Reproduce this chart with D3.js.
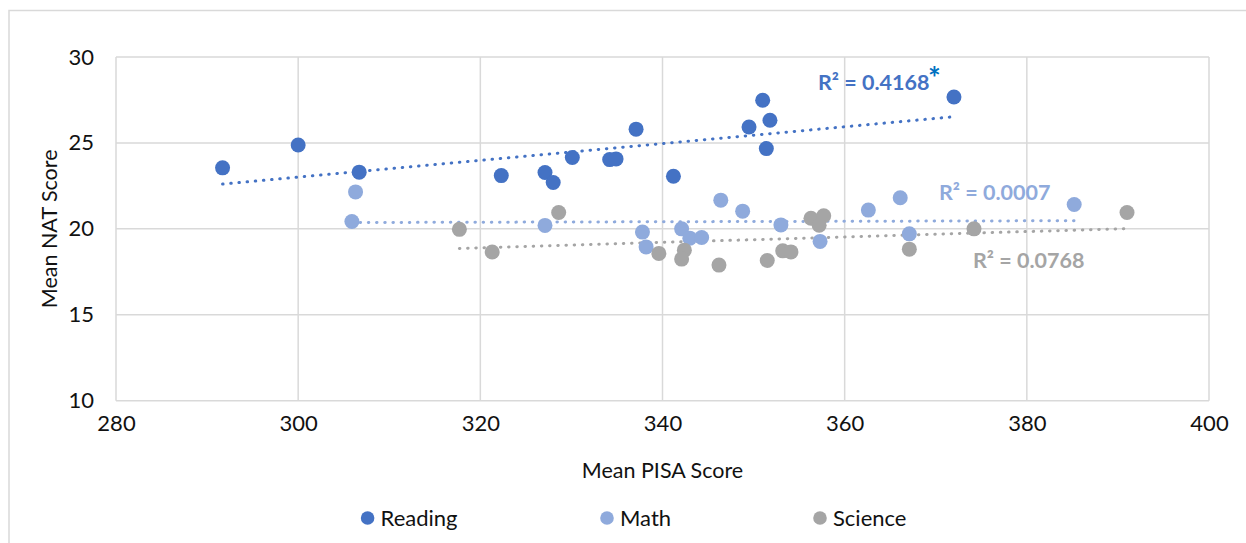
<!DOCTYPE html>
<html>
<head>
<meta charset="utf-8">
<script src="https://cdn.jsdelivr.net/npm/d3@7"></script>
<style>
    body { margin: 0; background: #fff; }
    text { font-family: Lato, "Open Sans", sans-serif; fill: #111; }
</style>
</head>
<body>
<div id="chart"></div>
<script>
// series values (Mean PISA score, Mean NAT score)
const readingX = [291.7, 300.0, 306.7, 322.3, 327.1, 328.0, 330.1, 334.2, 334.9, 337.1, 341.2, 349.5, 351.0, 351.8, 351.4, 372.0];
const readingY = [23.55, 24.88, 23.30, 23.10, 23.28, 22.70, 24.15, 24.03, 24.07, 25.80, 23.06, 25.93, 27.48, 26.32, 24.67, 27.67];

const mathX = [306.3, 305.9, 327.1, 337.8, 338.2, 342.1, 343.0, 344.3, 346.4, 348.8, 353.0, 357.3, 362.6, 366.1, 367.1, 385.2];
const mathY = [22.15, 20.43, 20.20, 19.81, 18.95, 20.00, 19.46, 19.50, 21.67, 21.03, 20.23, 19.27, 21.09, 21.81, 19.71, 21.42];

const scienceX = [317.7, 321.3, 328.6, 339.6, 342.4, 342.1, 346.2, 351.5, 353.2, 354.1, 356.3, 357.7, 357.2, 367.1, 374.2, 391.0];
const scienceY = [19.97, 18.65, 20.95, 18.57, 18.76, 18.24, 17.89, 18.16, 18.72, 18.66, 20.62, 20.76, 20.21, 18.82, 20.00, 20.95];

const seriesNames = ["Reading", "Math", "Science"];
const r2Labels = ["R² = 0.4168", "R² = 0.0007", "R² = 0.0768"];
const xTicks = [280, 300, 320, 340, 360, 380, 400];
const yTicks = [10, 15, 20, 25, 30];

const colors = ["#4472C4", "#8FAADC", "#A5A5A5"];

const width = 1246, height = 543;
const plot = { left: 116, right: 1209, top: 57, bottom: 400.7 };

const svg = d3.select("#chart")
    .append("svg")
    .attr("width", width)
    .attr("height", height);

// outer chart frame
svg.append("rect")
    .attr("x", 9).attr("y", 10.5)
    .attr("width", 1400).attr("height", 700)
    .attr("fill", "none")
    .attr("stroke", "#D9D9D9")
    .attr("stroke-width", 1.5);

const x = d3.scaleLinear().domain([280, 400]).range([plot.left, plot.right]);
const y = d3.scaleLinear().domain([10, 30]).range([plot.bottom, plot.top]);

// gridlines
svg.append("g")
    .selectAll("line")
    .data(xTicks)
    .enter().append("line")
    .attr("x1", d => x(d)).attr("x2", d => x(d))
    .attr("y1", plot.top).attr("y2", plot.bottom)
    .attr("stroke", "#D9D9D9").attr("stroke-width", 1.5);

svg.append("g")
    .selectAll("line")
    .data(yTicks)
    .enter().append("line")
    .attr("x1", plot.left).attr("x2", plot.right)
    .attr("y1", d => y(d)).attr("y2", d => y(d))
    .attr("stroke", "#D9D9D9").attr("stroke-width", 1.5);

// axes labels via d3 axes, lines hidden
const xAxis = svg.append("g")
    .attr("transform", `translate(0,${plot.bottom + 15})`)
    .call(d3.axisBottom(x).tickValues(xTicks).tickSize(0).tickPadding(0));
xAxis.select(".domain").remove();
xAxis.selectAll("text")
    .attr("dy", "0.71em")
    .style("font-size", "22px")
    .style("font-family", "Lato, sans-serif")
    .attr("fill", "#111");

const yAxis = svg.append("g")
    .attr("transform", `translate(${plot.left - 22},0)`)
    .call(d3.axisLeft(y).tickValues(yTicks).tickSize(0).tickPadding(0));
yAxis.select(".domain").remove();
yAxis.selectAll("text")
    .style("font-size", "22px")
    .style("font-family", "Lato, sans-serif")
    .attr("fill", "#111");

// axis titles
svg.append("text")
    .attr("x", (plot.left + plot.right) / 2)
    .attr("y", 470)
    .attr("dy", "0.35em")
    .attr("text-anchor", "middle")
    .style("font-size", "21.5px")
    .text("Mean PISA Score");

svg.append("text")
    .attr("transform", "rotate(-90)")
    .attr("x", -(plot.top + plot.bottom) / 2)
    .attr("y", 49)
    .attr("dy", "0.35em")
    .attr("text-anchor", "middle")
    .style("font-size", "21.5px")
    .text("Mean NAT Score");

const series = [
    { xs: readingX, ys: readingY },
    { xs: mathX, ys: mathY },
    { xs: scienceX, ys: scienceY }
];

// least squares trendline over the series' x range
function trend(xs, ys) {
    const n = xs.length;
    const mx = d3.mean(xs), my = d3.mean(ys);
    let sxy = 0, sxx = 0;
    for (let i = 0; i < n; i++) {
        sxy += (xs[i] - mx) * (ys[i] - my);
        sxx += (xs[i] - mx) * (xs[i] - mx);
    }
    const b = sxy / sxx, a = my - b * mx;
    const x0 = d3.min(xs), x1 = d3.max(xs);
    return [[x0, a + b * x0], [x1, a + b * x1]];
}

series.forEach((s, i) => {
    svg.append("path")
        .datum(trend(s.xs, s.ys))
        .attr("d", d3.line().x(d => x(d[0])).y(d => y(d[1])))
        .attr("fill", "none")
        .attr("stroke", colors[i])
        .attr("stroke-width", 3)
        .attr("stroke-linecap", "round")
        .attr("stroke-dasharray", "0.5 7.7");
});

series.forEach((s, i) => {
    svg.append("g")
        .selectAll("circle")
        .data(s.xs.map((v, j) => [v, s.ys[j]]))
        .enter().append("circle")
        .attr("cx", d => x(d[0]))
        .attr("cy", d => y(d[1]))
        .attr("r", 7.5)
        .attr("fill", colors[i]);
});

// R² labels
const labelPos = [[818, 90], [939, 200], [973, 268]];
r2Labels.forEach((t, i) => {
    svg.append("text")
        .attr("x", labelPos[i][0])
        .attr("y", labelPos[i][1])
        .style("font-size", "21.5px")
        .style("font-weight", "bold")
        .style("fill", colors[i])
        .text(t);
    if (i === 0) {
        svg.append("text")
            .attr("x", 928)
            .attr("y", 89)
            .style("font-size", "30px")
            .style("font-weight", "bold")
            .style("fill", "#0070C0")
            .text("*");
    }
});

// legend
const legendX = [367.6, 607, 820];
seriesNames.forEach((name, i) => {
    svg.append("circle")
        .attr("cx", legendX[i]).attr("cy", 518)
        .attr("r", 6.8)
        .attr("fill", colors[i]);
    svg.append("text")
        .attr("x", legendX[i] + 13)
        .attr("y", 518)
        .attr("dy", "0.35em")
        .style("font-size", "22px")
        .text(name);
});
</script>
</body>
</html>
